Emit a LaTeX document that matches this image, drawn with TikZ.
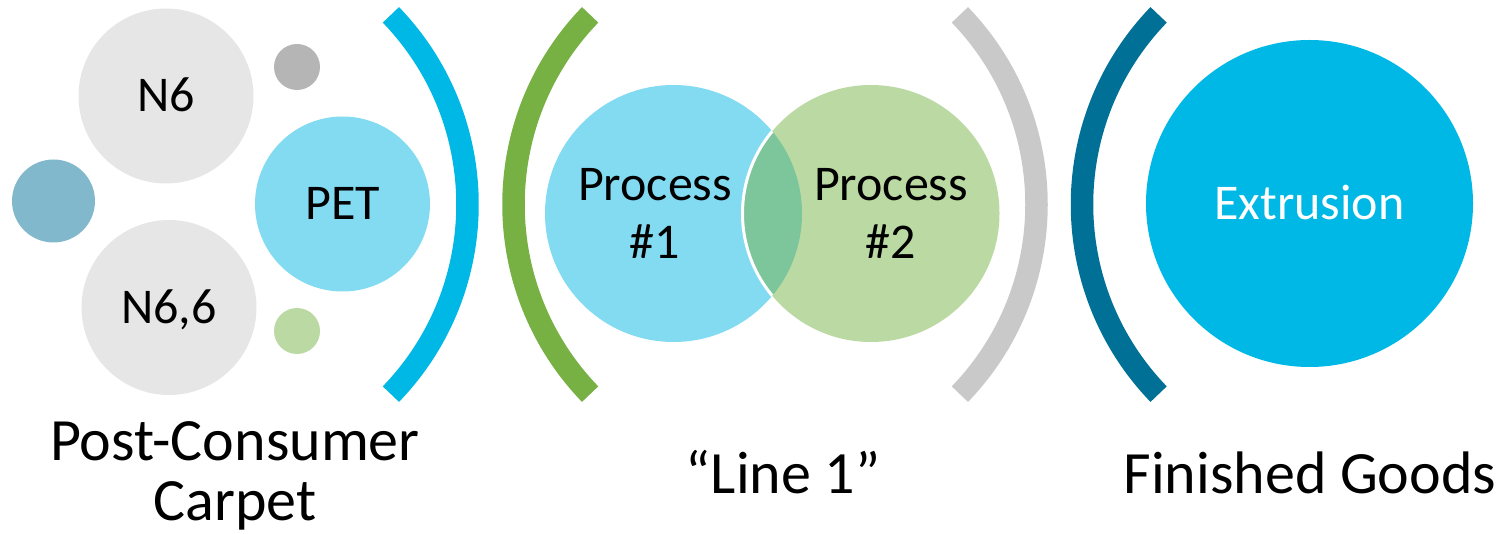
\documentclass[tikz,border=0pt]{standalone}
\usepackage{fontspec}
\setmainfont{Carlito}
\usepackage{xcolor}
\usepackage{tikz}
\usetikzlibrary{positioning,calc}

\definecolor{nylongray}{HTML}{E6E6E6}
\definecolor{dotgray}{HTML}{B5B5B5}
\definecolor{dotgreen}{HTML}{BBD9A3}
\definecolor{slateblue}{HTML}{82B8CB}
\definecolor{petblue}{HTML}{83DBF2}
\definecolor{procgreen}{HTML}{BBD9A3}
\definecolor{overlapgreen}{HTML}{7DC59B}
\definecolor{skyblue}{HTML}{00B8E5}
\definecolor{leafgreen}{HTML}{77B043}
\definecolor{silver}{HTML}{C9C9C9}
\definecolor{deepblue}{HTML}{007096}

\begin{document}
\begin{tikzpicture}[x=1pt,y=-1pt]
  \tikzset{bubble/.style={circle, inner sep=0pt, font=\fontsize{50}{58}\selectfont, text height=32pt, text depth=0pt},
    proclabel/.style={align=center, inner sep=0pt, anchor=north, font=\fontsize{50}{58}\selectfont},
    caption/.style={align=center, inner sep=0pt, font=\fontsize{60}{60}\selectfont},
    bracket/.style={line width=22.5pt}}
  \useasboundingbox (0,0) rectangle (1510,534);

    % post-consumer carpet
    \node[bubble, fill=nylongray, minimum size=175pt] (n6) at (166,96) {N6};
    \node[bubble, fill=nylongray, minimum size=175pt] (n66) at (169,307.5) {N6,6};
    \node[bubble, fill=slateblue, minimum size=83pt] (other) at (53.5,201) {};
    \node[bubble, fill=petblue, minimum size=175pt] (pet) at (342.5,204) {PET};
    \node[bubble, fill=dotgray, minimum size=46pt] (dottop) at (297,67) {};
    \node[bubble, fill=dotgreen, minimum size=46pt] (dotbot) at (297,331) {};

    \draw[bracket, draw=skyblue] ([shift={(-44:273)}]194.5,204.5) arc[start angle=-44, end angle=44, radius=273];

    % line 1
    \draw[bracket, draw=leafgreen] ([shift={(136:273)}]786.5,204.5) arc[start angle=136, end angle=224, radius=273];

    \node[bubble, fill=petblue, minimum size=257pt] (proc1) at (673.5,213.5) {};
    \node[bubble, fill=procgreen, minimum size=257pt] (proc2) at (871,213.5) {};
    \begin{scope}
      \clip (proc1.center) circle[radius=128.5];
      \fill[overlapgreen] (proc2.center) circle[radius=128.5];
      \draw[white, line width=3pt] (proc2.center) circle[radius=128.5];
    \end{scope}
    \node[proclabel] (proc1txt) at (655,168.5) {Process\\\#1};
    \node[proclabel] (proc2txt) at (891,168.5) {Process\\\#2};

    \draw[bracket, draw=silver] ([shift={(-44:273)}]763.5,204.5) arc[start angle=-44, end angle=44, radius=273];

    % finished goods
    \draw[bracket, draw=deepblue] ([shift={(136:273)}]1355,204.5) arc[start angle=136, end angle=224, radius=273];
    \node[bubble, fill=skyblue, text=white, minimum size=327pt] (extr) at (1309.5,203.5) {Extrusion};

    \node[caption, anchor=north] (carpet) at (235,421) {Post-Consumer\\Carpet};
    \node[caption, anchor=base] (line) at (783,493) {``Line 1''};
    \node[caption, anchor=base] (goods) at (1310,493) {Finished Goods};
\end{tikzpicture}
\end{document}
